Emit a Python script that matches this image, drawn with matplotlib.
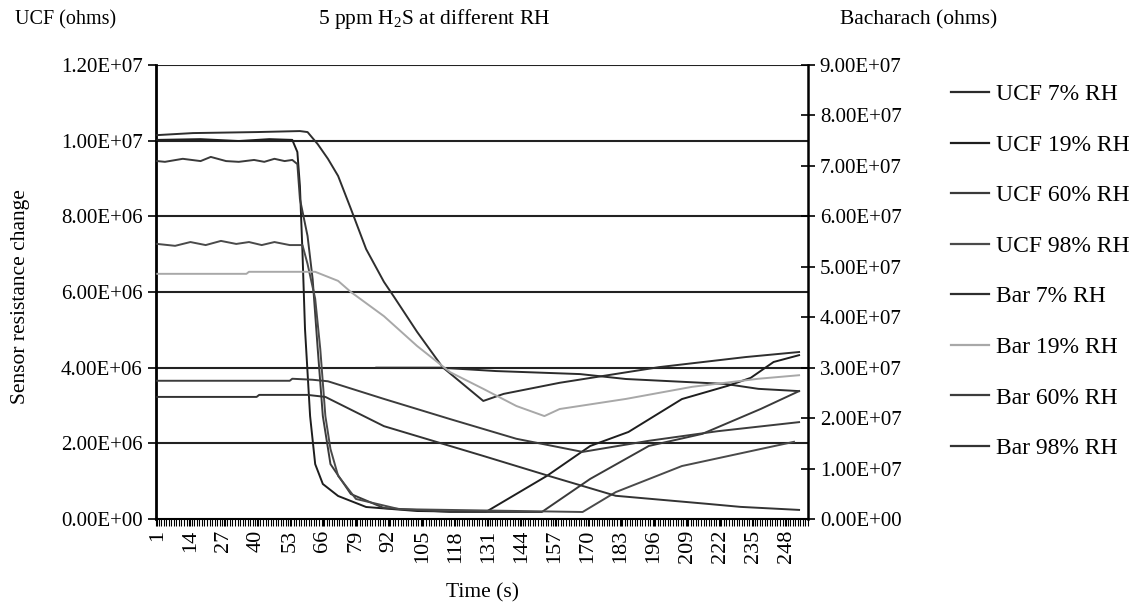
import numpy as np
import matplotlib.pyplot as plt
from matplotlib.ticker import FuncFormatter, MultipleLocator
from matplotlib.lines import Line2D

plt.rcParams['font.family'] = ['Liberation Serif', 'DejaVu Serif']
plt.rcParams['mathtext.fontset'] = 'custom'
plt.rcParams['mathtext.rm'] = 'Liberation Serif'

# time step (category) / resistance key points
# UCF sensors -> left axis (ohms)
ucf7_t = [87, 112, 134, 167, 185, 224, 237, 253]
ucf7_v = [4.0e6, 4.0e6, 3.91e6, 3.83e6, 3.70e6, 3.57e6, 3.44e6, 3.38e6]

ucf19_t = [1, 18, 33, 45, 54, 56, 57, 58, 59, 61, 63, 66, 72, 83, 103,
           130, 154, 171, 186, 207, 225, 234, 243, 253]
ucf19_v = [1.002e7, 1.004e7, 9.99e6, 1.004e7, 1.002e7, 9.7e6, 8.8e6, 7.06e6,
           5.02e6, 2.72e6, 1.45e6, 9.25e5, 6.08e5, 3.17e5, 2.11e5,
           1.85e5, 1.14e6, 1.93e6, 2.30e6, 3.17e6, 3.52e6, 3.73e6, 4.15e6, 4.33e6]

ucf60_t = [1, 4, 11, 18, 22, 28, 33, 39, 43, 47, 51, 54, 56, 57, 60, 62, 64,
           66, 69, 77, 90, 116, 152, 171, 194, 215, 238, 253]
ucf60_v = [9.46e6, 9.44e6, 9.52e6, 9.46e6, 9.57e6, 9.46e6, 9.44e6, 9.49e6,
           9.44e6, 9.52e6, 9.46e6, 9.49e6, 9.38e6, 8.46e6, 7.48e6, 6.34e6,
           4.49e6, 2.72e6, 1.45e6, 6.6e5, 2.9e5, 1.85e5, 1.85e5, 1.06e6,
           1.93e6, 2.25e6, 2.91e6, 3.38e6]

ucf98_t = [1, 8, 14, 20, 26, 32, 37, 42, 47, 53, 58, 60, 63, 65, 67, 69,
           72, 79, 96, 168, 181, 207, 251]
ucf98_v = [7.27e6, 7.22e6, 7.32e6, 7.24e6, 7.35e6, 7.27e6, 7.32e6, 7.24e6,
           7.32e6, 7.24e6, 7.24e6, 6.74e6, 5.82e6, 4.49e6, 2.72e6, 1.85e6,
           1.14e6, 5.3e5, 2.6e5, 1.85e5, 7.1e5, 1.40e6, 2.04e6]

# Bacharach sensors -> right axis (ohms)
bar7_t = [1, 15, 40, 57, 60, 64, 68, 72, 77, 83, 90, 94, 103, 113, 129,
          137, 159, 198, 232, 253]
bar7_v = [7.61e7, 7.65e7, 7.67e7, 7.69e7, 7.67e7, 7.43e7, 7.14e7, 6.8e7,
          6.15e7, 5.35e7, 4.7e7, 4.4e7, 3.71e7, 3.01e7, 2.34e7, 2.48e7,
          2.7e7, 3.01e7, 3.21e7, 3.31e7]

bar19_t = [1, 36, 37, 63, 72, 77, 90, 103, 116, 129, 142, 153, 159, 185,
           211, 237, 253]
bar19_v = [4.86e7, 4.86e7, 4.9e7, 4.9e7, 4.72e7, 4.5e7, 4.02e7, 3.43e7,
           2.91e7, 2.58e7, 2.24e7, 2.04e7, 2.18e7, 2.38e7, 2.62e7, 2.78e7, 2.85e7]

bar60_t = [1, 53, 54, 62, 68, 90, 116, 142, 168, 194, 221, 253]
bar60_v = [2.74e7, 2.74e7, 2.78e7, 2.76e7, 2.73e7, 2.38e7, 1.98e7, 1.59e7,
           1.33e7, 1.55e7, 1.74e7, 1.92e7]

bar98_t = [1, 40, 41, 60, 67, 90, 129, 155, 181, 217, 230, 253]
bar98_v = [2.42e7, 2.42e7, 2.46e7, 2.46e7, 2.42e7, 1.84e7, 1.25e7, 8.5e6,
           4.6e6, 3.0e6, 2.4e6, 1.8e6]

n_steps = 256
time_labels = list(range(1, 249, 13))

left_series = [
    ('UCF 7% RH', ucf7_t, ucf7_v, '#2b2b2b'),
    ('UCF 19% RH', ucf19_t, ucf19_v, '#1e1e1e'),
    ('UCF 60% RH', ucf60_t, ucf60_v, '#3a3a3a'),
    ('UCF 98% RH', ucf98_t, ucf98_v, '#4a4a4a'),
]
right_series = [
    ('Bar 7% RH', bar7_t, bar7_v, '#2e2e2e'),
    ('Bar 19% RH', bar19_t, bar19_v, '#a8a8a8'),
    ('Bar 60% RH', bar60_t, bar60_v, '#3c3c3c'),
    ('Bar 98% RH', bar98_t, bar98_v, '#333333'),
]

fig = plt.figure(figsize=(11.43, 6.09), dpi=100)
ax = fig.add_axes([0.1365, 0.1478, 0.5704, 0.7455])
ax2 = ax.twinx()

ax.set_xlim(0.5, n_steps + 0.5)
ax.set_ylim(0, 1.2e7)
ax2.set_ylim(0, 9e7)

# horizontal gridlines on the left scale
for g in np.arange(2e6, 1.21e7, 2e6):
    ax.axhline(g, color='#222222', lw=1.5, zorder=1)

handles = []
for lab, t, v, c in left_series:
    ax.plot(t, v, color=c, lw=1.4, zorder=3)
    handles.append(Line2D([], [], color=c, lw=1.6, label=lab))
for lab, t, v, c in right_series:
    ax2.plot(t, v, color=c, lw=1.4, zorder=3)
    handles.append(Line2D([], [], color=c, lw=1.6, label=lab))

sci = FuncFormatter(lambda v, p: f'{v:.2E}')
ax.yaxis.set_major_locator(MultipleLocator(2e6))
ax.yaxis.set_major_formatter(sci)
ax2.yaxis.set_major_locator(MultipleLocator(1e7))
ax2.yaxis.set_major_formatter(sci)

ax.set_xticks(time_labels)
ax.set_xticklabels([str(t) for t in time_labels], rotation=90)
ax.set_xticks(np.arange(0.5, n_steps + 1, 1), minor=True)
ax.tick_params(axis='x', which='both', direction='out', length=5, width=0.8,
               labelsize=16, pad=3)
ax.tick_params(axis='y', direction='out', length=6, width=1.2, labelsize=15)
ax2.tick_params(axis='y', direction='inout', length=10, width=1.2, labelsize=15)

for a in (ax, ax2):
    a.spines['top'].set_visible(False)
ax.spines['right'].set_visible(False)
ax.spines['left'].set_linewidth(2)
ax.spines['bottom'].set_linewidth(1.5)
ax2.spines['left'].set_visible(False)
ax2.spines['bottom'].set_visible(False)
ax2.spines['right'].set_linewidth(1.8)

ax.set_xlabel('Time (s)', fontsize=15.5, labelpad=14)
ax.set_ylabel('Sensor resistance change', fontsize=15.5)
ax.yaxis.set_label_coords(-0.193, 0.49)

fig.text(0.013, 0.968, 'UCF (ohms)', fontsize=14.5, va='center')
fig.text(0.38, 0.968, r'5 ppm H$_\mathregular{2}$S at different RH',
         fontsize=15.5, va='center', ha='center')
fig.text(0.735, 0.968, 'Bacharach (ohms)', fontsize=15.5, va='center')

fig.legend(handles=handles, loc='upper left', bbox_to_anchor=(0.8216, 0.882),
           frameon=False, fontsize=17, handlelength=1.6, handletextpad=0.3,
           labelspacing=1.23, borderpad=0)

fig.savefig('out.png', dpi=100)
